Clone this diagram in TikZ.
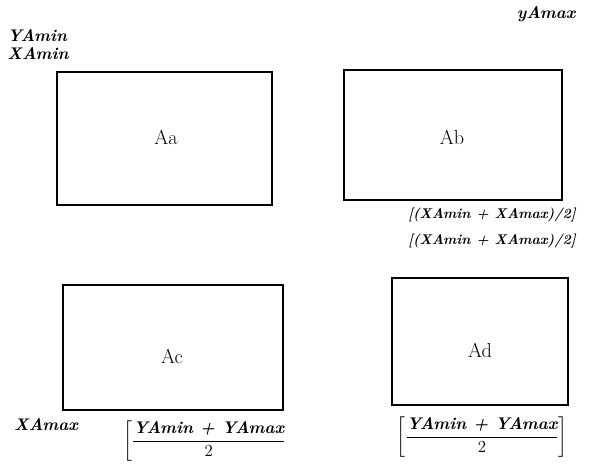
\documentclass[tikz,border=0pt]{standalone}
\usepackage{amsmath}
\usetikzlibrary{positioning}

\begin{document}
\begin{tikzpicture}[
    x=0.03cm, y=-0.03cm,
    quad/.style={draw=black, line width=1.4pt},
    quadlabel/.style={font=\LARGE},
    bound/.style={font=\Large\itshape\bfseries, inner sep=1pt},
    mid/.style={font=\large\itshape\bfseries},
    frac/.style={font=\Large\itshape\bfseries}
]
\useasboundingbox (0,0) rectangle (592,472);

% Quadrants
\draw[quad] (57,72) rectangle (272,205);
\draw[quad] (344,70) rectangle (562,200);
\draw[quad] (63,285) rectangle (283,410);
\draw[quad] (392,278) rectangle (568,405);

\node[quadlabel] (aa) at (166,137) {Aa};
\node[quadlabel] (ab) at (452,137) {Ab};
\node[quadlabel] (ac) at (172,356) {Ac};
\node[quadlabel] (ad) at (480,350) {Ad};

% Bounds
\node[bound, anchor=west] (ymin) at (6,36) {YAmin};
\node[bound, below=2pt of ymin.south west, anchor=north west] (xmin) {XAmin};
\node[bound] (ymax) at (546,14) {yAmax};
\node[bound] (xmax) at (46,425) {XAmax};

% Midpoints
\node[mid] (xmid1) at (492,215) {[(XAmin + XAmax)/2]};
\node[mid] (xmid2) at (492,241) {[(XAmin + XAmax)/2]};
\node[frac] (ymid1) at (205,441) {$\left[\dfrac{\text{YAmin + YAmax}}{2}\right.$};
\node[frac] (ymid2) at (482,437) {$\left[\dfrac{\text{YAmin + YAmax}}{2}\right]$};

\end{tikzpicture}
\end{document}
